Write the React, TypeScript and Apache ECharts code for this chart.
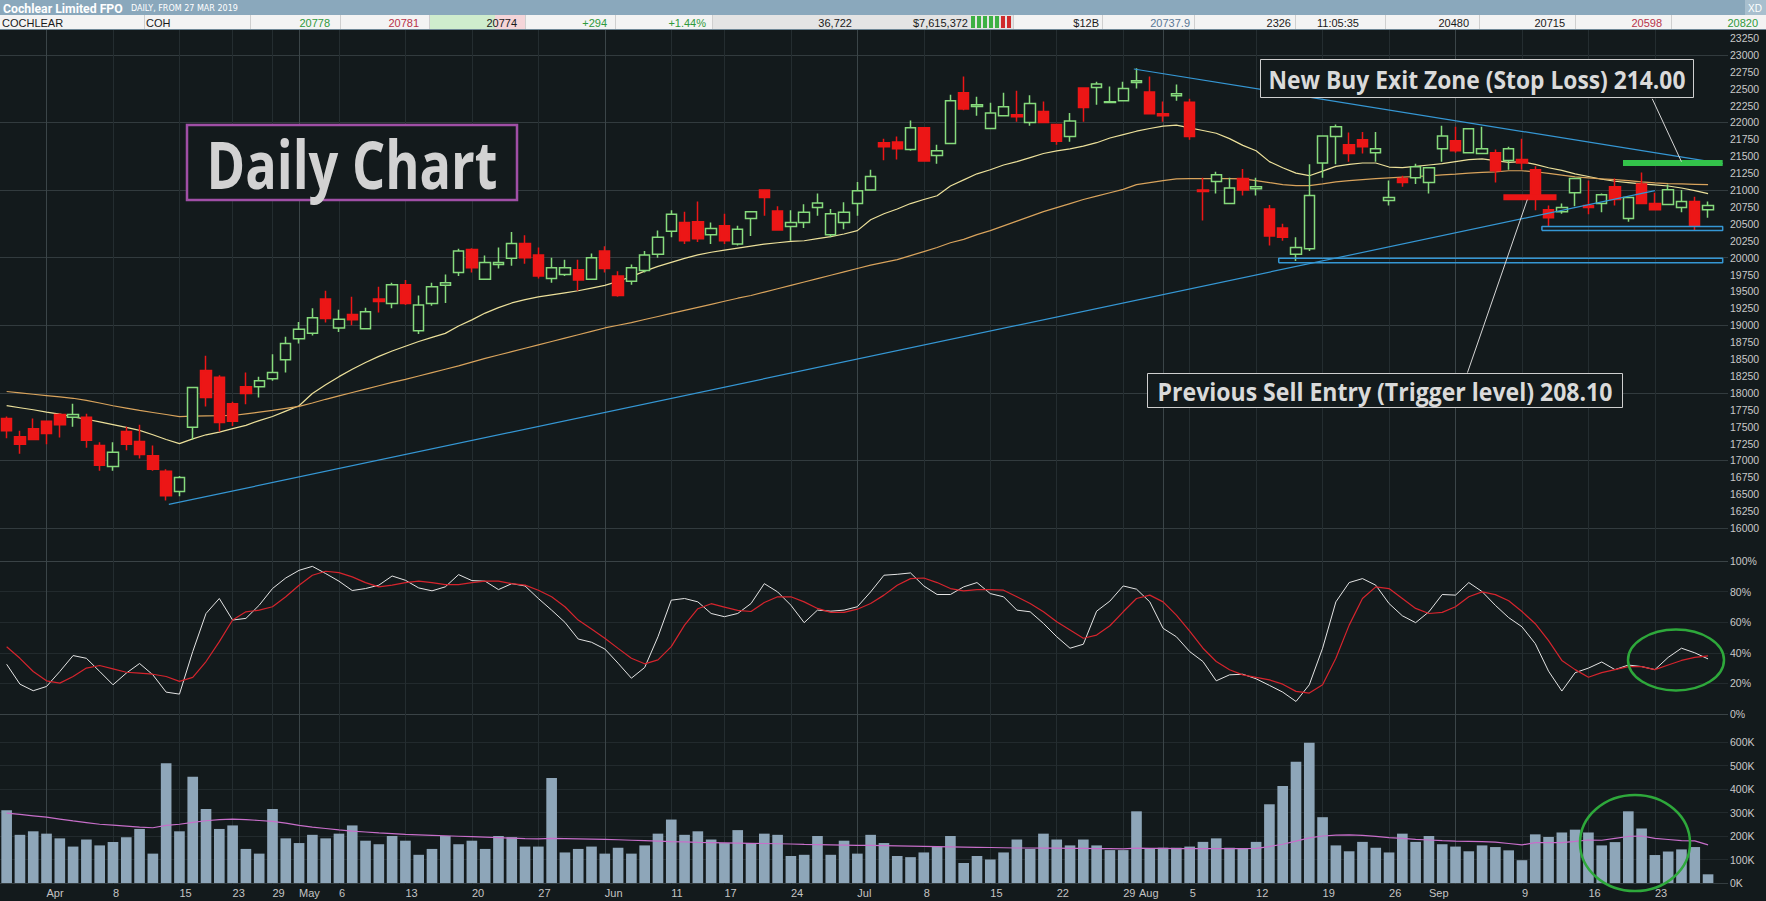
import React, { useEffect, useRef } from "react";
import * as echarts from "echarts";

// ---------- DATA ----------
const tradingDays: [string, number[]][] = [
  ["Mar", [27, 28, 29]],
  ["Apr", [1, 2, 3, 4, 5, 8, 9, 10, 11, 12, 15, 16, 17, 18, 23, 24, 26, 29, 30]],
  ["May", [1, 2, 3, 6, 7, 8, 9, 10, 13, 14, 15, 16, 17, 20, 21, 22, 23, 24, 27, 28, 29, 30, 31]],
  ["Jun", [3, 4, 5, 6, 7, 11, 12, 13, 14, 17, 18, 19, 20, 21, 24, 25, 26, 27, 28]],
  ["Jul", [1, 2, 3, 4, 5, 8, 9, 10, 11, 12, 15, 16, 17, 18, 19, 22, 23, 24, 25, 26, 29, 30, 31]],
  ["Aug", [1, 2, 5, 6, 7, 8, 9, 12, 13, 14, 15, 16, 19, 20, 21, 22, 23, 26, 27, 28, 29, 30]],
  ["Sep", [2, 3, 4, 5, 6, 9, 10, 11, 12, 13, 16, 17, 18, 19, 20, 23, 24, 25, 26, 27]],
];

const opens = [
  17620, 17350, 17470, 17580, 17680, 17640, 17640, 17220, 16910, 17430, 17280, 17070, 16840, 16540, 17490, 18330, 18230, 17840, 18090, 18090,
  18210, 18490, 18800, 18880, 19390, 18960, 19160, 18950, 19390, 19320, 19600, 18920, 19320, 19590, 19780, 20120, 19680, 19900, 19990, 20210,
  20040, 19690, 19750, 19820, 19680, 20100, 19730, 19650, 19810, 20050, 20390, 20520, 20530, 20340, 20470, 20200, 20580, 21000, 20690, 20460,
  20520, 20740, 20340, 20520, 20800, 21000, 21700, 21710, 21600, 21920, 21510, 21690, 22440, 22235, 21910, 22100, 22115, 22000, 22160, 21970,
  21790, 22510, 22515, 22295, 22320, 22590, 22450, 22130, 22395, 22300, 21000, 21125, 20800, 21170, 21020, 20720, 20440, 20050, 20130, 21400,
  21790, 21670, 21745, 21550, 20845, 21170, 21180, 21110, 21610, 21730, 21550, 21540, 21550, 21435, 21450, 21300, 20710, 20680, 20960, 20770,
  20800, 21050, 20580, 21090, 20800, 20785, 20740, 20830, 20710,
];
const highs = [
  17650, 17440, 17620, 17590, 17700, 17840, 17690, 17270, 17270, 17500, 17530, 17220, 16870, 16770, 18090, 18550, 18260, 17870, 18300, 18240,
  18570, 18830, 19050, 19250, 19510, 19230, 19420, 19260, 19570, 19630, 19670, 19440, 19630, 19750, 20130, 20140, 20030, 20150, 20380, 20330,
  20150, 20000, 19970, 19970, 20060, 20170, 19800, 19900, 20100, 20400, 20700, 20680, 20830, 20520, 20650, 20470, 20690, 21010, 20760, 20700,
  20790, 20950, 20720, 20820, 21120, 21300, 21760, 21790, 22030, 21930, 21670, 22410, 22680, 22380, 22290, 22440, 22470, 22400, 22310, 21980,
  22140, 22520, 22600, 22530, 22600, 22800, 22680, 22310, 22560, 22350, 21180, 21270, 21180, 21310, 21180, 20780, 20500, 20300, 21380, 21810,
  21970, 21850, 21860, 21860, 21140, 21210, 21390, 21340, 21950, 21935, 21910, 21935, 21600, 21640, 21760, 21350, 20770, 20800, 21180, 21140,
  20950, 21170, 20900, 21260, 20960, 21080, 21000, 20900, 20830,
];
const lows = [
  17330, 17100, 17300, 17240, 17340, 17500, 17190, 16850, 16850, 17150, 17030, 16850, 16410, 16470, 17310, 17800, 17430, 17510, 17830, 17930,
  18180, 18300, 18730, 18850, 19040, 18900, 19000, 18950, 19190, 19250, 19300, 18870, 19290, 19330, 19730, 19780, 19670, 19840, 19880, 19910,
  19690, 19630, 19730, 19510, 19670, 19780, 19420, 19600, 19780, 20000, 20300, 20200, 20230, 20200, 20200, 20180, 20320, 20620, 20400, 20250,
  20440, 20620, 20300, 20420, 20620, 21000, 21440, 21450, 21580, 21420, 21390, 21680, 22180, 22100, 21900, 22090, 22010, 21950, 21990, 21670,
  21715, 22010, 22260, 22290, 22310, 22500, 22120, 22010, 22320, 21745, 20550, 20950, 20790, 20920, 20920, 20180, 20250, 19950, 20100, 21180,
  21380, 21420, 21540, 21420, 20770, 21050, 21090, 20950, 21420, 21550, 21545, 21530, 21110, 21300, 21300, 20700, 20460, 20650, 20760, 20640,
  20670, 20770, 20530, 20790, 20700, 20780, 20670, 20400, 20590,
];
const closes = [
  17440, 17240, 17310, 17400, 17530, 17680, 17300, 16930, 17120, 17240, 17090, 16870, 16480, 16750, 18080, 17930, 17560, 17580, 17990, 18180,
  18300, 18730, 18940, 19110, 19100, 19090, 19080, 19200, 19350, 19600, 19320, 19300, 19570, 19630, 20100, 19850, 19930, 19930, 20210, 20000,
  19730, 19850, 19850, 19670, 20000, 19840, 19440, 19850, 20040, 20300, 20640, 20250, 20280, 20430, 20250, 20420, 20680, 20890, 20410, 20520,
  20670, 20810, 20650, 20670, 20990, 21200, 21640, 21610, 21920, 21430, 21580, 22320, 22200, 22260, 22140, 22230, 22085, 22280, 22000, 21720,
  22020, 22220, 22570, 22305, 22500, 22615, 22130, 22100, 22425, 21790, 20980, 21225, 21030, 21000, 21050, 20320, 20300, 20150, 20920, 21800,
  21935, 21540, 21640, 21610, 20890, 21110, 21345, 21330, 21800, 21580, 21905, 21610, 21285, 21610, 21400, 20930, 20590, 20740, 21170, 20740,
  20930, 20860, 20890, 20800, 20710, 21005, 20830, 20470, 20770,
];
const maFast = [
  17810, 17780, 17750, 17715, 17685, 17645, 17610, 17570, 17530, 17490, 17445, 17380, 17310, 17250, 17320, 17380, 17420, 17470, 17520, 17590,
  17650, 17730, 17810, 17990, 18120, 18240, 18350, 18450, 18540, 18620, 18690, 18760, 18820, 18880, 18990, 19080, 19180, 19260, 19330, 19380,
  19420, 19450, 19480, 19510, 19550, 19590, 19650, 19720, 19800, 19870, 19930, 19990, 20040, 20080, 20110, 20140, 20170, 20200, 20220, 20240,
  20250, 20280, 20310, 20350, 20400, 20560, 20650, 20720, 20800, 20860, 20916, 21060, 21150, 21240, 21300, 21370, 21420, 21480, 21540, 21580,
  21610, 21650, 21700, 21770, 21820, 21870, 21910, 21945, 21960, 21920, 21880, 21840, 21760, 21660, 21580, 21420, 21330, 21250, 21212, 21280,
  21350, 21380, 21400, 21400, 21340, 21330, 21350, 21370, 21390, 21420, 21450, 21460, 21435, 21410, 21420, 21380, 21330, 21290, 21240, 21200,
  21160, 21130, 21110, 21090, 21075, 21060, 21030, 20990, 20946,
];
const maSlow = [
  18020, 18000, 17980, 17960, 17940, 17920, 17890, 17850, 17810, 17775, 17740, 17710, 17680, 17650, 17655, 17660, 17662, 17665, 17690, 17715,
  17740, 17770, 17800, 17850, 17905, 17955, 18005, 18055, 18105, 18155, 18200, 18250, 18300, 18350, 18400, 18455, 18510, 18560, 18610, 18660,
  18710, 18760, 18810, 18860, 18910, 18960, 19000, 19040, 19085, 19130, 19175, 19220, 19265, 19310, 19355, 19400, 19440, 19490, 19540, 19590,
  19640, 19690, 19740, 19790, 19840, 19890, 19930, 19970, 20030, 20090, 20150, 20220, 20270, 20340, 20400, 20470, 20540, 20610, 20680, 20740,
  20800, 20860, 20910, 20960, 21010, 21080, 21110, 21140, 21165, 21170, 21170, 21170, 21168, 21165, 21140, 21110, 21080, 21064, 21064, 21090,
  21120, 21140, 21155, 21168, 21180, 21190, 21200, 21210, 21225, 21235, 21250, 21260, 21270, 21285, 21285, 21270, 21245, 21220, 21195, 21180,
  21165, 21155, 21140, 21120, 21105, 21095, 21090, 21085, 21079,
];
const stochK = [
  32.5, 19.5, 15.2, 18.0, 27.8, 38.2, 36.4, 27.8, 19.1, 26.7, 33.0, 25.6, 14.3, 13.0, 40.8, 65.7, 75.5, 61.4, 62.5, 71.1,
  82.0, 88.9, 93.9, 96.5, 91.8, 86.8, 80.7, 82.0, 84.2, 90.2, 87.4, 82.4, 80.5, 83.1, 91.1, 87.2, 86.8, 81.3, 85.2, 83.7,
  75.5, 67.9, 59.9, 49.0, 46.9, 42.5, 33.2, 23.4, 30.4, 50.5, 74.4, 75.5, 73.3, 65.7, 63.6, 65.7, 72.2, 85.2, 79.8, 71.1,
  59.7, 67.9, 67.2, 67.9, 70.1, 79.8, 90.7, 91.3, 92.2, 83.7, 78.1, 78.1, 83.1, 85.9, 78.7, 76.6, 67.9, 66.8, 59.2, 50.5,
  43.0, 45.6, 67.2, 73.8, 83.7, 81.6, 73.3, 56.0, 50.5, 40.8, 34.3, 21.7, 25.6, 26.0, 23.0, 18.7, 14.3, 8.2, 19.1, 43.0,
  73.3, 85.9, 88.5, 84.2, 72.2, 64.2, 59.7, 66.8, 78.1, 77.7, 85.9, 80, 71, 63, 57, 46, 28, 15, 27, 30,
  34, 29, 32, 31, 29, 37, 43, 40, 36,
];
const stochD = [
  44.0, 36.4, 27.8, 21.7, 20.2, 24.5, 30.0, 31.7, 29.5, 27.3, 26.7, 26.0, 24.5, 21.3, 23.9, 34.3, 47.3, 61.4, 66.8, 67.9,
  70.1, 76.6, 84.2, 90.7, 93.3, 92.4, 89.6, 85.9, 83.1, 84.2, 85.9, 86.8, 85.9, 84.6, 84.6, 85.9, 86.8, 86.8, 85.2, 84.2,
  80.9, 76.6, 70.1, 61.4, 55.5, 49.5, 42.9, 36.4, 32.8, 35.4, 44.0, 58.1, 68.8, 72.1, 69.9, 67.7, 67.0, 72.9, 76.6, 76.6,
  73.3, 69.0, 66.4, 66.4, 68.5, 72.2, 77.7, 84.2, 88.5, 88.9, 85.9, 82.0, 80.5, 81.3, 81.3, 80.9, 76.6, 72.2, 66.8, 60.3,
  54.9, 49.5, 51.6, 57.7, 66.8, 75.5, 77.7, 73.3, 64.6, 54.2, 43.0, 34.3, 28.9, 25.6, 23.9, 22.3, 19.5, 14.8, 13.7, 19.1,
  36.4, 58.1, 75.5, 83.1, 82.0, 75.5, 69.0, 65.7, 66.4, 70.1, 76.6, 79.8, 78, 74, 67, 59, 48, 35, 29, 24,
  27, 29, 31, 31, 29, 32, 35, 37, 38,
];
const volumeK = [
  310, 205, 220, 210, 190, 155, 185, 160, 175, 195, 230, 125, 510, 220, 452, 315, 230, 245, 145, 125,
  315, 190, 170, 205, 190, 210, 245, 180, 165, 200, 180, 120, 145, 200, 165, 180, 145, 200, 195, 155,
  155, 447, 130, 145, 155, 125, 150, 125, 160, 210, 270, 205, 220, 185, 170, 225, 170, 210, 205, 115,
  120, 200, 120, 180, 125, 205, 170, 115, 110, 130, 155, 200, 85, 115, 100, 130, 185, 145, 210, 185,
  160, 185, 160, 140, 140, 305, 145, 150, 150, 155, 175, 190, 150, 145, 175, 335, 413, 516, 597, 280,
  160, 135, 175, 150, 130, 210, 175, 200, 165, 155, 135, 160, 153, 139, 97, 207, 196, 215, 227, 215,
  160, 174, 305, 232, 119, 134, 143, 153, 37,
];
const volumeMaK = [
  297, 292, 286, 280, 272, 264, 257, 250, 246, 242, 238, 235, 245, 250, 258, 265, 270, 272, 270, 266,
  262, 255, 245, 238, 232, 226, 221, 217, 213, 210, 207, 205, 203, 201, 199, 197, 195, 193, 191, 189,
  188, 190, 189, 188, 187, 186, 184, 182, 180, 178, 176, 175, 173, 172, 171, 170, 169, 168, 167, 166,
  164, 163, 162, 161, 160, 160, 159, 158, 157, 156, 155, 154, 153, 152, 151, 150, 149, 149, 148, 148,
  147, 147, 146, 146, 145, 148, 147, 147, 146, 146, 146, 146, 146, 146, 147, 155, 165, 178, 192, 200,
  204, 205, 203, 198, 193, 190, 186, 183, 180, 178, 177, 176, 174, 168, 162, 172, 172, 172, 177, 183,
  182, 190, 198, 200, 190, 185, 180, 179, 162,
];

// x-axis tick labels (category index -> text) and grid line positions
const tickIndex = [3, 8, 13, 17, 20, 22, 25, 30, 35, 40, 45, 50, 54, 59, 64, 69, 74, 79, 84, 85, 89, 94, 99, 104, 107, 114, 119, 124];
const tickText = ["Apr", "8", "15", "23", "29", "May", "6", "13", "20", "27", "Jun", "11", "17", "24", "Jul", "8", "15", "22", "29", " Aug", "5", "12", "19", "26", "Sep", "9", "16", "23"];
const weekLines = [3, 8, 13, 17, 20, 22, 25, 30, 35, 40, 45, 50, 54, 59, 64, 69, 74, 79, 84, 87, 89, 94, 99, 104, 109, 114, 119, 124];
const monthLines = [3, 22, 45, 64, 87, 109];

// annotation geometry in data space [index, price]
const trendUp: [number, number][] = [[12.2, 16350], [124, 20990]];
const trendDown: [number, number][] = [[84.8, 22790], [129.1, 21390]];
const stopLossZone: [number, number][] = [[121.6, 21400], [129.1, 21400]];
const sellEntry: [number, number][] = [[112.6, 20895], [116.6, 20895]];
const boxUpper: [number, number][] = [[115.5, 20400], [129.1, 20400], [129.1, 20460], [115.5, 20460], [115.5, 20400]];
const boxLower: [number, number][] = [[95.7, 19925], [129.1, 19925], [129.1, 19990], [95.7, 19990], [95.7, 19925]];
const buyConnector: [number, number][] = [[123.8, 22350], [126.0, 21419]];
const sellConnector: [number, number][] = [[109.9, 18300], [114.4, 20857]];

const headerCells: { t: string; x: number; a: string; c: string }[] = [
  { t: "COCHLEAR", x: 2, a: "left", c: "#1a1a1a" },
  { t: "COH", x: 146, a: "left", c: "#1a1a1a" },
  { t: "20778", x: 330, a: "right", c: "#2f9a3c" },
  { t: "20781", x: 419, a: "right", c: "#b8334a" },
  { t: "20774", x: 517, a: "right", c: "#1a1a1a" },
  { t: "+294", x: 607, a: "right", c: "#2f9a3c" },
  { t: "+1.44%", x: 706, a: "right", c: "#2f9a3c" },
  { t: "36,722", x: 852, a: "right", c: "#1a1a1a" },
  { t: "$7,615,372", x: 968, a: "right", c: "#1a1a1a" },
  { t: "$12B", x: 1099, a: "right", c: "#1a1a1a" },
  { t: "20737.9", x: 1190, a: "right", c: "#5a7896" },
  { t: "2326", x: 1291, a: "right", c: "#1a1a1a" },
  { t: "11:05:35", x: 1359, a: "right", c: "#1a1a1a" },
  { t: "20480", x: 1469, a: "right", c: "#1a1a1a" },
  { t: "20715", x: 1565, a: "right", c: "#1a1a1a" },
  { t: "20598", x: 1662, a: "right", c: "#b8334a" },
  { t: "20820", x: 1758, a: "right", c: "#2f9a3c" },
];
const headerSeparators = [144, 250, 340, 429, 525, 615, 712, 1013, 1102, 1194, 1295, 1385, 1479, 1575, 1671];
const tradeBars = ["g", "g", "g", "g", "g", "r", "r"];

// ---------- helpers ----------
const BG = "#131a1c";
function fitScale(text: string, font: string, target: number): number {
  try {
    const ctx = document.createElement("canvas").getContext("2d");
    if (!ctx) return 1;
    ctx.font = font;
    const w = ctx.measureText(text).width;
    return w > 0 ? target / w : 1;
  } catch (e) {
    return 1;
  }
}
function txt(text: string, x: number, y: number, font: string, fill: string, align: string, scaleX = 1, z = 100): any {
  return {
    type: "text",
    x,
    y,
    scaleX,
    z,
    silent: true,
    style: { text, font, fill, align, verticalAlign: "middle", textAlign: align, textVerticalAlign: "middle" },
  };
}

function buildOption(): any {
  const categories = tradingDays.flatMap(([m, ds]) => ds.map((d) => `${d} ${m}`));
  categories.push("");
  const candleData = opens.map((o, i) => [o, closes[i], lows[i], highs[i]]);
  const vol = volumeK.map((v) => v * 1000);
  const volMa = volumeMaK.map((v) => v * 1000);
  const labelMap: Record<number, string> = {};
  tickIndex.forEach((ix, k) => (labelMap[ix] = tickText[k]));

  const gridBase = { left: 0, width: 1728, containLabel: false, outerBoundsMode: "none" };
  const axisLabelStyle = { color: "#c9c9c9", fontSize: 10.5, fontFamily: "Liberation Sans" };
  const catAxis = (gridIndex: number, extra: any = {}) => ({
    type: "category",
    gridIndex,
    data: categories,
    boundaryGap: true,
    axisLine: { show: false },
    axisTick: { show: false },
    axisLabel: { show: false },
    splitLine: { show: false },
    ...extra,
  });

  const annot = (name: string, data: [number, number][], color: string, width: number) => ({
    name,
    type: "line",
    xAxisIndex: 3,
    yAxisIndex: 0,
    data,
    symbol: "none",
    silent: true,
    z: 4,
    lineStyle: { color, width },
  });

  const dailyFont = 'bold 67px "Open Sans"';
  const noteFont = 'bold 25px "Open Sans"';
  const buyText = "New Buy Exit Zone (Stop Loss) 214.00";
  const sellText = "Previous Sell Entry (Trigger level) 208.10";
  const titleFont = 'bold 13px "Roboto"';
  const subFont = '8px "DejaVu Sans"';

  const graphics: any[] = [
    // header
    { type: "rect", shape: { x: 0, y: 0, width: 1766, height: 15 }, style: { fill: "#8aa8bc" }, z: 90, silent: true },
    { type: "rect", shape: { x: 1745, y: 0, width: 21, height: 15 }, style: { fill: "#a8bfce" }, z: 91, silent: true },
    txt("XD", 1755, 8, '10px "Liberation Sans"', "#ffffff", "center", 1, 92),
    txt("Cochlear Limited FPO", 3, 8, titleFont, "#ffffff", "left", fitScale("Cochlear Limited FPO", titleFont, 120), 92),
    txt("DAILY, FROM 27 MAR 2019", 131, 9, subFont, "#ffffff", "left", fitScale("DAILY, FROM 27 MAR 2019", subFont, 107), 92),
    { type: "rect", shape: { x: 0, y: 15, width: 1766, height: 15 }, style: { fill: "#f3f3f3" }, z: 90, silent: true },
    { type: "rect", shape: { x: 712, y: 15, width: 301, height: 15 }, style: { fill: "#e4e4e4" }, z: 91, silent: true },
    { type: "rect", shape: { x: 429, y: 15, width: 66, height: 15 }, style: { fill: "#cfeccd" }, z: 91, silent: true },
    { type: "rect", shape: { x: 495, y: 15, width: 30, height: 15 }, style: { fill: "#f4d5d9" }, z: 91, silent: true },
    { type: "rect", shape: { x: 0, y: 29, width: 1766, height: 1 }, style: { fill: "#6f8796" }, z: 91, silent: true },
    ...headerSeparators.map((x) => ({
      type: "line",
      shape: { x1: x + 0.5, y1: 15, x2: x + 0.5, y2: 29 },
      style: { stroke: "#cfcfcf", lineWidth: 1 },
      z: 92,
      silent: true,
    })),
    ...tradeBars.map((c, k) => ({
      type: "rect",
      shape: { x: 971 + k * 6, y: 16, width: 4, height: 12 },
      style: { fill: c === "g" ? "#3cb043" : "#cf2b2b" },
      z: 92,
      silent: true,
    })),
    ...headerCells.map((h) => txt(h.t, h.x, 22.5, '11px "Liberation Sans"', h.c, h.a, 1, 93)),

    // Daily Chart title box
    { type: "rect", shape: { x: 187, y: 125, width: 330, height: 75 }, style: { fill: BG, stroke: "#a04fa6", lineWidth: 2.5 }, z: 50, silent: true },
    txt("Daily Chart", 352, 163, dailyFont, "#d2d2d2", "center", fitScale("Daily Chart", dailyFont, 291), 51),

    // annotation boxes
    { type: "rect", shape: { x: 1260.5, y: 59.5, width: 433, height: 38 }, style: { fill: BG, stroke: "#cfcfcf", lineWidth: 1 }, z: 50, silent: true },
    txt(buyText, 1477, 79, noteFont, "#dadada", "center", fitScale(buyText, noteFont, 417), 51),
    { type: "rect", shape: { x: 1147.5, y: 373.5, width: 475, height: 34 }, style: { fill: BG, stroke: "#cfcfcf", lineWidth: 1 }, z: 50, silent: true },
    txt(sellText, 1385, 391, noteFont, "#dadada", "center", fitScale(sellText, noteFont, 455), 51),

    // green highlight ellipses
    { type: "ellipse", shape: { cx: 1676, cy: 660, rx: 48, ry: 30.5 }, style: { fill: "none", stroke: "#2ea83b", lineWidth: 2.5 }, z: 50, silent: true },
    { type: "ellipse", shape: { cx: 1635, cy: 843, rx: 55, ry: 48 }, style: { fill: "none", stroke: "#2ea83b", lineWidth: 2.5 }, z: 50, silent: true },
  ];

  return {
    animation: false,
    backgroundColor: BG,
    textStyle: { fontFamily: "Liberation Sans" },
    grid: [
      { ...gridBase, top: 21, height: 524 },
      { ...gridBase, top: 561, height: 153 },
      { ...gridBase, top: 742, height: 141 },
      { ...gridBase, top: 30, height: 854 },
    ],
    xAxis: [
      catAxis(0),
      catAxis(1),
      catAxis(2, {
        axisLabel: {
          show: true,
          interval: (i: number) => labelMap[i] !== undefined,
          formatter: (_v: string, i: number) => labelMap[i] ?? "",
          align: "left",
          margin: 4,
          color: "#c4c4c4",
          fontSize: 11,
          fontFamily: "Liberation Sans",
        },
      }),
      { type: "value", gridIndex: 0, min: -0.5, max: 129.5, show: false, splitLine: { show: false } },
      { type: "value", gridIndex: 3, min: -0.5, max: 129.5, show: false, splitLine: { show: false } },
    ],
    yAxis: [
      {
        type: "value",
        gridIndex: 0,
        position: "right",
        min: 15750,
        max: 23500,
        interval: 250,
        axisLine: { show: false },
        axisTick: { show: false },
        axisLabel: {
          ...axisLabelStyle,
          margin: 2,
          formatter: (v: number) => (v >= 16000 && v <= 23250 ? String(v) : ""),
        },
        splitLine: { show: true, lineStyle: { color: ["rgba(0,0,0,0)", "#323b3e", "rgba(0,0,0,0)", "rgba(0,0,0,0)"], width: 1 } },
      },
      {
        type: "value",
        gridIndex: 1,
        position: "right",
        min: 0,
        max: 100,
        interval: 20,
        axisLine: { show: false },
        axisTick: { show: false },
        axisLabel: { ...axisLabelStyle, margin: 2, formatter: (v: number) => `${v}%` },
        splitLine: { show: true, lineStyle: { color: ["#3a4346", "#222a2d", "#222a2d", "#222a2d", "#222a2d", "#3a4346"], width: 1 } },
      },
      {
        type: "value",
        gridIndex: 2,
        position: "right",
        min: 0,
        max: 600000,
        interval: 100000,
        axisLine: { show: false },
        axisTick: { show: false },
        axisLabel: { ...axisLabelStyle, margin: 2, formatter: (v: number) => `${v / 1000}K` },
        splitLine: { show: true, lineStyle: { color: ["#343d40", "#222a2d", "#222a2d", "#222a2d", "#222a2d", "#222a2d", "#222a2d"], width: 1 } },
      },
      { type: "value", gridIndex: 3, min: 0, max: 1, show: false, splitLine: { show: false } },
    ],
    graphic: { elements: graphics },
    series: [
      {
        name: "grid-verticals",
        type: "line",
        xAxisIndex: 4,
        yAxisIndex: 3,
        data: [[0, 0.5]],
        symbol: "none",
        silent: true,
        z: 0,
        lineStyle: { opacity: 0 },
        markLine: {
          silent: true,
          z: 0,
          symbol: ["none", "none"],
          label: { show: false },
          animation: false,
          data: [
            ...weekLines
              .filter((i) => !monthLines.includes(i))
              .map((i) => ({ xAxis: i, lineStyle: { color: "#242d30", width: 1, type: "solid" } })),
            ...monthLines.map((i) => ({ xAxis: i, lineStyle: { color: "#3b4548", width: 1, type: "solid" } })),
          ],
        },
      },
      {
        name: "COH",
        type: "candlestick",
        xAxisIndex: 0,
        yAxisIndex: 0,
        data: candleData,
        barWidth: "82%",
        z: 3,
        itemStyle: {
          color: BG,
          color0: "#ec1616",
          borderColor: "#86da7c",
          borderColor0: "#ec1616",
          borderColorDoji: "#86da7c",
          borderWidth: 1.5,
        },
      },
      {
        name: "MA fast",
        type: "line",
        xAxisIndex: 0,
        yAxisIndex: 0,
        data: maFast,
        symbol: "none",
        z: 2,
        lineStyle: { color: "#ece09a", width: 1.2 },
      },
      {
        name: "MA slow",
        type: "line",
        xAxisIndex: 0,
        yAxisIndex: 0,
        data: maSlow,
        symbol: "none",
        z: 2,
        lineStyle: { color: "#d8a35c", width: 1.2 },
      },
      annot("trend up", trendUp, "#3597d4", 1.2),
      annot("trend down", trendDown, "#3597d4", 1.2),
      annot("box upper", boxUpper, "#3597d4", 1.5),
      annot("box lower", boxLower, "#3597d4", 1.5),
      annot("stop loss", stopLossZone, "#33c24a", 6),
      annot("sell entry", sellEntry, "#ec1616", 6),
      annot("buy connector", buyConnector, "#d6d6d6", 1),
      annot("sell connector", sellConnector, "#d6d6d6", 1),
      {
        name: "%K",
        type: "line",
        xAxisIndex: 1,
        yAxisIndex: 1,
        data: stochK,
        symbol: "none",
        z: 3,
        lineStyle: { color: "#e4e4e4", width: 1 },
      },
      {
        name: "%D",
        type: "line",
        xAxisIndex: 1,
        yAxisIndex: 1,
        data: stochD,
        symbol: "none",
        z: 3,
        lineStyle: { color: "#d5242d", width: 1.2 },
      },
      {
        name: "Volume",
        type: "bar",
        xAxisIndex: 2,
        yAxisIndex: 2,
        data: vol,
        barWidth: "80%",
        z: 2,
        itemStyle: { color: "#8ea6b9" },
      },
      {
        name: "Volume MA",
        type: "line",
        xAxisIndex: 2,
        yAxisIndex: 2,
        data: volMa,
        symbol: "none",
        z: 3,
        lineStyle: { color: "#c76ec9", width: 1.2 },
      },
    ],
  };
}

export default function App() {
  const ref = useRef<HTMLDivElement>(null);
  useEffect(() => {
    if (!ref.current) return;
    const chart = echarts.init(ref.current, null, { renderer: "svg" });
    chart.setOption(buildOption());
    return () => chart.dispose();
  }, []);
  return <div ref={ref} style={{ position: "fixed", left: 0, top: 0, width: 1766, height: 901 }} />;
}
